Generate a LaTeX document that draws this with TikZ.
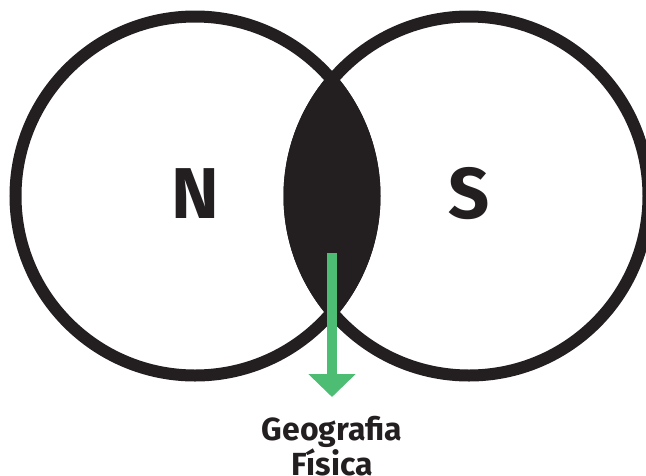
\documentclass[tikz,border=0pt]{standalone}
\usepackage{fontspec}
\setmainfont{Fira Sans}
\usetikzlibrary{arrows.meta}
\definecolor{inkblack}{HTML}{231F20}
\definecolor{leafgreen}{HTML}{4DBD74}
\tikzset{
  ring/.style={draw=inkblack, line width=12pt},
  bigletter/.style={inner sep=0pt, anchor=base, text=inkblack,
    font=\bfseries\fontsize{72}{72}\selectfont},
  pointer/.style={draw=leafgreen, line width=10pt,
    -{Triangle[width=46pt, length=23pt]}},
  caption/.style={inner sep=0pt, anchor=north, align=center, text=inkblack,
    font=\bfseries\fontsize{32}{33}\selectfont}
}
\begin{document}
\begin{tikzpicture}[x=1pt, y=-1pt]
  \useasboundingbox (0,0) rectangle (646,475);
  \begin{scope}
    \clip (0,0) rectangle (646,475);
    % overlap of the two sets, stroke included
    \begin{scope}
      \clip (195,196) circle[radius=185.5];
      \fill[inkblack] (469,196) circle[radius=185.5];
    \end{scope}
    % the two sets
    \draw[ring] (195,196) circle[radius=179.5];
    \draw[ring] (469,196) circle[radius=179.5];
  \end{scope}
  \node[bigletter] (north) at (195,218) {N};
  \node[bigletter] (south) at (469,218) {S};
  \coordinate (arrowstart) at (332,253);
  \coordinate (arrowtip) at (332,397);
  \draw[pointer] (arrowstart) -- (arrowtip);
  \node[caption] (label) at (332,416) {Geografia\\Física};
\end{tikzpicture}
\end{document}
